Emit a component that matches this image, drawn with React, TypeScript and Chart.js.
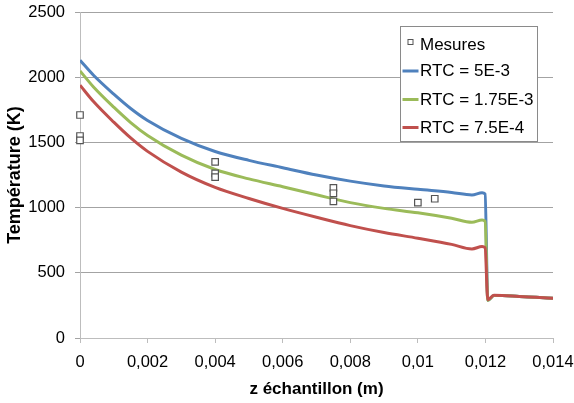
import React, { useEffect, useRef } from "react";
import { Chart, registerables } from "chart.js";

Chart.register(...registerables);

// ---- data ----
const zValues = [0, 0.0004, 0.001, 0.0015, 0.002, 0.003, 0.004, 0.005, 0.006, 0.007, 0.008, 0.009, 0.01, 0.011, 0.0116, 0.0119, 0.01199, 0.01207, 0.01225, 0.0125, 0.013, 0.0135, 0.014];
const rtc5e3 = [2130, 2015, 1870, 1760, 1668, 1530, 1430, 1362, 1306, 1250, 1203, 1166, 1140, 1116, 1097, 1114, 1105, 290, 325, 326, 318, 312, 305];
const rtc175e3 = [2048, 1925, 1770, 1652, 1553, 1402, 1292, 1220, 1160, 1098, 1038, 994, 960, 918, 887, 905, 895, 288, 325, 326, 318, 312, 305];
const rtc75e4 = [1939, 1813, 1655, 1534, 1431, 1272, 1155, 1070, 994, 926, 862, 809, 765, 718, 683, 701, 692, 294, 327, 326, 318, 312, 305];

const mesuresZ = [0, 0, 0, 0.004, 0.004, 0.004, 0.0075, 0.0075, 0.0075, 0.01, 0.0105];
const mesuresT = [1710, 1549, 1515, 1350, 1263, 1233, 1152, 1110, 1047, 1038, 1068];

const xTicks = [0, 0.002, 0.004, 0.006, 0.008, 0.01, 0.012, 0.014];
const yTicks = [0, 500, 1000, 1500, 2000, 2500];

const seriesLabels = ["Mesures", "RTC = 5E-3", "RTC = 1.75E-3", "RTC = 7.5E-4"];
const seriesColors = ["#555555", "#4F81BD", "#9BBB59", "#C0504D"];

const xTitle = "z échantillon (m)";
const yTitle = "Température (K)";

const FONT = "'Liberation Sans', Arial, sans-serif";

const toPoints = (xs: number[], ys: number[]) => xs.map((x, i) => ({ x, y: ys[i] }));

const boxLegend = {
  id: "boxLegend",
  afterDraw(chart: any) {
    const ctx = chart.ctx as CanvasRenderingContext2D;
    const area = chart.chartArea;
    const bx = Math.round(area.right - 153) + 0.5;
    const by = Math.round(area.top + 14) + 0.5;
    const bw = 137;
    const bh = 115;
    ctx.save();
    ctx.fillStyle = "#ffffff";
    ctx.fillRect(bx, by, bw, bh);
    ctx.strokeStyle = "#8a8a8a";
    ctx.lineWidth = 1;
    ctx.strokeRect(bx, by, bw, bh);
    const rows = [18, 44.5, 73, 101];
    ctx.font = `17px ${FONT}`;
    ctx.textBaseline = "middle";
    ctx.textAlign = "left";
    rows.forEach((dy, i) => {
      const cy = by + dy;
      if (i === 0) {
        ctx.fillStyle = "#ffffff";
        ctx.strokeStyle = seriesColors[0];
        ctx.lineWidth = 1;
        ctx.fillRect(bx + 7.5, cy - 5, 5, 5);
        ctx.strokeRect(bx + 7.5, cy - 5, 5, 5);
      } else {
        ctx.strokeStyle = seriesColors[i];
        ctx.lineWidth = 3;
        ctx.beginPath();
        ctx.moveTo(bx + 2, cy);
        ctx.lineTo(bx + 18, cy);
        ctx.stroke();
      }
      ctx.fillStyle = "#000000";
      ctx.fillText(seriesLabels[i], bx + 19.5, cy + 0.5);
    });
    ctx.restore();
  },
};

export default function App() {
  const canvasRef = useRef<HTMLCanvasElement | null>(null);

  useEffect(() => {
    if (!canvasRef.current) return;
    const lineDs = (label: string, ys: number[], color: string, order: number) => ({
      label,
      data: toPoints(zValues, ys),
      showLine: true,
      borderColor: color,
      backgroundColor: color,
      borderWidth: 3,
      pointRadius: 0,
      cubicInterpolationMode: "monotone" as const,
      order,
    });
    const chart = new Chart(canvasRef.current, {
      type: "scatter",
      data: {
        datasets: [
          {
            label: seriesLabels[0],
            data: toPoints(mesuresZ, mesuresT),
            pointStyle: "rect",
            pointRadius: 4.6,
            pointBorderWidth: 1.2,
            pointBorderColor: seriesColors[0],
            pointBackgroundColor: "#ffffff",
            showLine: false,
            clip: false,
            order: 0,
          } as any,
          lineDs(seriesLabels[1], rtc5e3, seriesColors[1], 3),
          lineDs(seriesLabels[2], rtc175e3, seriesColors[2], 2),
          lineDs(seriesLabels[3], rtc75e4, seriesColors[3], 1),
        ],
      },
      options: {
        animation: false,
        responsive: true,
        maintainAspectRatio: false,
        layout: { padding: { top: 12, right: 21, bottom: 0, left: 0 } },
        plugins: {
          legend: { display: false },
          tooltip: { enabled: false },
        },
        scales: {
          x: {
            type: "linear",
            min: 0,
            max: 0.014,
            afterBuildTicks: (scale: any) => {
              scale.ticks = xTicks.map((v) => ({ value: v }));
            },
            afterFit: (scale: any) => {
              scale.height = 65;
              scale.paddingLeft = 0;
              scale.paddingRight = 0;
            },
            grid: {
              drawOnChartArea: false,
              drawTicks: true,
              tickLength: 5,
              color: "#bdbdbd",
            },
            border: { color: "#bdbdbd", width: 1 },
            ticks: {
              padding: 9.5,
              color: "#000000",
              font: { family: FONT, size: 16.5 },
              maxRotation: 0,
              autoSkip: false,
              callback: (v: any) => String(Number(Number(v).toFixed(3))).replace(".", ","),
            },
            title: {
              display: true,
              text: xTitle,
              color: "#000000",
              font: { family: FONT, size: 17, weight: "bold" },
              padding: { top: 0, bottom: 3 },
            },
          },
          y: {
            type: "linear",
            min: 0,
            max: 2500,
            afterBuildTicks: (scale: any) => {
              scale.ticks = yTicks.map((v) => ({ value: v }));
            },
            afterFit: (scale: any) => {
              scale.width = 80;
              scale.paddingTop = 0;
              scale.paddingBottom = 0;
            },
            grid: {
              drawOnChartArea: true,
              drawTicks: true,
              tickLength: 5,
              color: "#a3a3a3",
            },
            border: { color: "#bdbdbd", width: 1 },
            ticks: {
              padding: 10,
              color: "#000000",
              font: { family: FONT, size: 16.5 },
              callback: (v: any) => String(v),
            },
            title: {
              display: true,
              text: yTitle,
              color: "#000000",
              font: { family: FONT, size: 18, weight: "bold" },
              padding: { top: 4, bottom: 0 },
            },
          },
        },
      },
      plugins: [boxLegend],
    });
    return () => chart.destroy();
  }, []);

  return (
    <div style={{ position: "fixed", left: 0, top: 0, width: 574, height: 403, background: "#ffffff" }}>
      <canvas ref={canvasRef} />
    </div>
  );
}
